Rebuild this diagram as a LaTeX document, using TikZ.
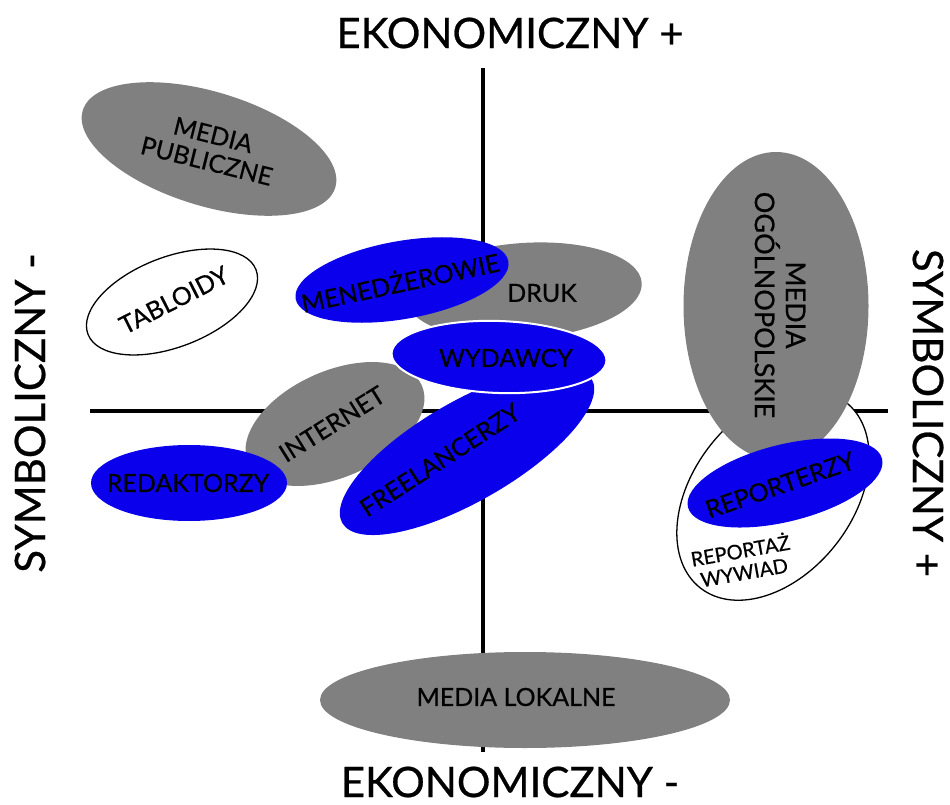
\documentclass[tikz,border=0pt]{standalone}
\usepackage{fontspec}
\setmainfont{Lato}[FakeBold = 0.6]
\usetikzlibrary{
    shapes.geometric
}
\definecolor{mediagray}{RGB}{128,128,128}
\definecolor{roleblue}{RGB}{10,0,235}
\tikzset {
    oval/.style = {ellipse, inner sep = 0pt},
    gray oval/.style = {oval, fill = mediagray},
    blue oval/.style = {oval, fill = roleblue},
    white oval/.style = {oval, fill = white, draw = black, line width = 1.3pt},
    oval text/.style = {align = center, inner sep = 0pt,
        font = \fontsize{25}{27}\selectfont},
    small text/.style = {align = center, inner sep = 0pt,
        font = \fontsize{20}{22}\selectfont},
    axis/.style = {line width = 4pt},
    axis label/.style = {font = \fontsize{42}{44}\selectfont}
}
\begin{document}
\begin{tikzpicture}[x = 1pt, y = -1pt]
    \useasboundingbox (0, 0) rectangle (950, 805);
    % axes
    \coordinate (top) at (483, 68);
    \coordinate (bottom) at (483, 752);
    \coordinate (left) at (90, 411);
    \coordinate (right) at (888, 411);
    \draw [axis] (top) -- (bottom);
    \draw [axis] (left) -- (right);
    \node (econ plus) [axis label] at (510, 33) {EKONOMICZNY +};
    \node (econ minus) [axis label] at (510, 782) {EKONOMICZNY -};
    \node (symb minus) [axis label, rotate = 90] at (30, 413) {SYMBOLICZNY -};
    \node (symb plus) [axis label, rotate = -90] at (928, 413) {SYMBOLICZNY +};
    % media and roles
    \node (publiczne) [gray oval, minimum width = 264, minimum height = 114,
        rotate = -17] at (209, 149) {};
    \node [oval text, rotate = -14] at (210, 148) {MEDIA\\PUBLICZNE};
    \node (tabloidy) [white oval, minimum width = 180, minimum height = 90,
        rotate = 21] at (172, 302) {};
    \node [oval text, rotate = 27] at (174, 300) {TABLOIDY};
    \node (druk) [gray oval, minimum width = 236, minimum height = 96,
        rotate = 4] at (524, 291) {};
    \node [oval text] at (542, 293) {DRUK};
    \node (menedzerowie) [blue oval, minimum width = 216, minimum height = 78,
        rotate = 10] at (402, 280) {};
    \node [oval text, rotate = 12] at (400, 281) {MENEDŻEROWIE};
    \node (internet) [gray oval, minimum width = 190, minimum height = 106,
        rotate = 24] at (335, 424) {};
    \node [oval text, rotate = 32] at (332, 424) {INTERNET};
    \node (redaktorzy) [blue oval, minimum width = 196, minimum height = 76]
        at (189, 483) {};
    \node [oval text] at (188, 483) {REDAKTORZY};
    \node (freelancerzy) [blue oval, minimum width = 288, minimum height = 100,
        rotate = 30] at (467, 451) {};
    \node [oval text, rotate = 33] at (440, 460) {FREELANCERZY};
    \node (wydawcy) [blue oval, draw = white, line width = 2pt,
        minimum width = 215, minimum height = 72, rotate = -2] at (499, 357) {};
    \node [oval text] at (506, 358) {WYDAWCY};
    \node (reportaz) [white oval, minimum width = 236, minimum height = 160,
        rotate = 52] at (773, 495) {};
    \node (ogolnopolskie) [gray oval, minimum width = 308, minimum height = 185,
        rotate = -90] at (776, 306) {};
    \node [oval text, font = \fontsize{27}{31}\selectfont, rotate = -90]
        at (780, 305) {MEDIA\\OGÓLNOPOLSKIE};
    \node (reporterzy) [blue oval, minimum width = 200, minimum height = 77,
        rotate = 14] at (785, 483) {};
    \node [oval text, rotate = 19] at (780, 485) {REPORTERZY};
    \node (gatunki) [small text, rotate = 10] at (742, 560) {REPORTAŻ\\WYWIAD};
    \node (lokalne) [gray oval, minimum width = 410, minimum height = 96]
        at (525, 700) {};
    \node [oval text] at (516, 697) {MEDIA LOKALNE};
\end{tikzpicture}
\end{document}
